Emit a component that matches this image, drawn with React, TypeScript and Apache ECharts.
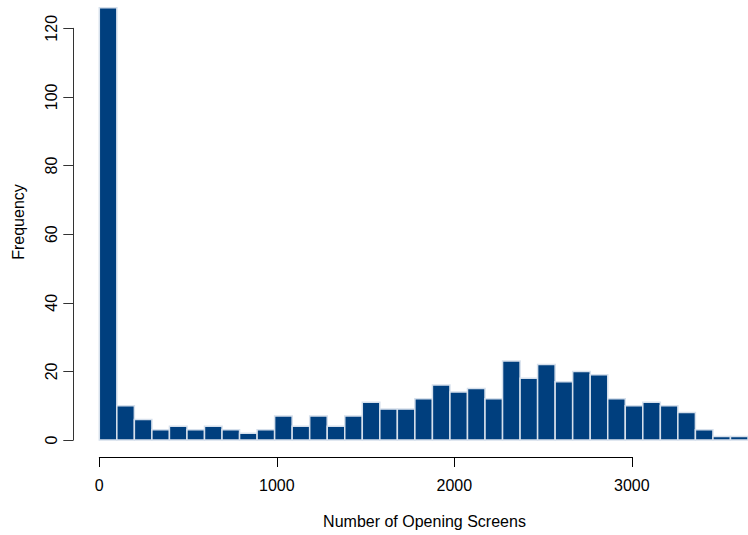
import React, { useEffect, useRef } from "react";
import * as echarts from "echarts";

const binStarts = [0, 100, 200, 300, 400, 500, 600, 700, 800, 900, 1000, 1100, 1200, 1300, 1400, 1500, 1600, 1700, 1800, 1900, 2000, 2100, 2200, 2300, 2400, 2500, 2600, 2700, 2800, 2900, 3000, 3100, 3200, 3300, 3400, 3500, 3600];
const binWidth = 100;
const counts = [126, 10, 6, 3, 4, 3, 4, 3, 2, 3, 7, 4, 7, 4, 7, 11, 9, 9, 12, 16, 14, 15, 12, 23, 18, 22, 17, 20, 19, 12, 10, 11, 10, 8, 3, 1, 1];
const xTicks = [0, 1000, 2000, 3000];
const yTicks = [0, 20, 40, 60, 80, 100, 120];
const xTitle = "Number of Opening Screens";
const yTitle = "Frequency";

const FONT = "'Liberation Sans', Arial, sans-serif";

export default function App() {
  const ref = useRef<HTMLDivElement>(null);
  useEffect(() => {
    if (!ref.current) return;
    const chart = echarts.init(ref.current, undefined, { renderer: "svg" });
    const data = binStarts.map((s, i) => [s, s + binWidth, counts[i]]);
    chart.setOption({
      animation: false,
      backgroundColor: "#ffffff",
      textStyle: { fontFamily: FONT },
      grid: [
        { left: 99.3, top: 28.3, width: 656.8, height: 411.7 },
        { left: 99.3, top: 28.3, width: 532.5, height: 411.7 },
      ],
      xAxis: [
        {
          type: "value", gridIndex: 0, min: 0, max: 3700,
          show: false,
        },
        {
          type: "value", gridIndex: 1, min: xTicks[0], max: xTicks[xTicks.length - 1], interval: 1000,
          offset: 17,
          axisLine: { show: true, onZero: false, lineStyle: { color: "#000", width: 1 } },
          axisTick: { show: true, length: 10, lineStyle: { color: "#000", width: 1 } },
          axisLabel: { show: true, fontSize: 16, color: "#000", margin: 20, fontFamily: FONT, formatter: (v: number) => String(v) },
          splitLine: { show: false },
        },
      ],
      yAxis: [
        {
          type: "value", gridIndex: 0, min: yTicks[0], max: yTicks[yTicks.length - 1], interval: 20,
          offset: 26,
          axisLine: { show: true, onZero: false, lineStyle: { color: "#333", width: 1 } },
          axisTick: { show: true, length: 10, lineStyle: { color: "#333", width: 1 } },
          axisLabel: { show: true, fontSize: 16, color: "#000", margin: 14, rotate: 90, fontFamily: FONT, formatter: (v: number) => String(v) },
          splitLine: { show: false },
        },
        { type: "value", gridIndex: 1, min: 0, max: 120, show: false },
      ],
      series: [
        {
          type: "custom",
          xAxisIndex: 0,
          yAxisIndex: 0,
          clip: false,
          encode: { x: [0, 1], y: 2 },
          data,
          renderItem: (params: any, api: any) => {
            const p1 = api.coord([api.value(0), api.value(2)]);
            const p2 = api.coord([api.value(1), 0]);
            return {
              type: "rect",
              shape: { x: p1[0], y: p1[1], width: p2[0] - p1[0], height: p2[1] - p1[1] },
              style: { fill: "#003f7e", stroke: "#d6e0ec", lineWidth: 1.5 },
            };
          },
        },
        { type: "scatter", xAxisIndex: 1, yAxisIndex: 1, data: [] },
      ],
      graphic: [
        {
          type: "text", x: 424.5, y: 521,
          style: { text: xTitle, fill: "#000", font: `16px ${FONT}`, align: "center", verticalAlign: "middle" },
        },
        {
          type: "text", x: 10, y: 222, rotation: Math.PI / 2,
          style: { text: yTitle, fill: "#000", font: `16px ${FONT}`, align: "center", verticalAlign: "top" },
        },
      ],
    });
    return () => chart.dispose();
  }, []);
  return <div ref={ref} style={{ position: "absolute", left: 0, top: 0, width: 748, height: 535 }} />;
}
